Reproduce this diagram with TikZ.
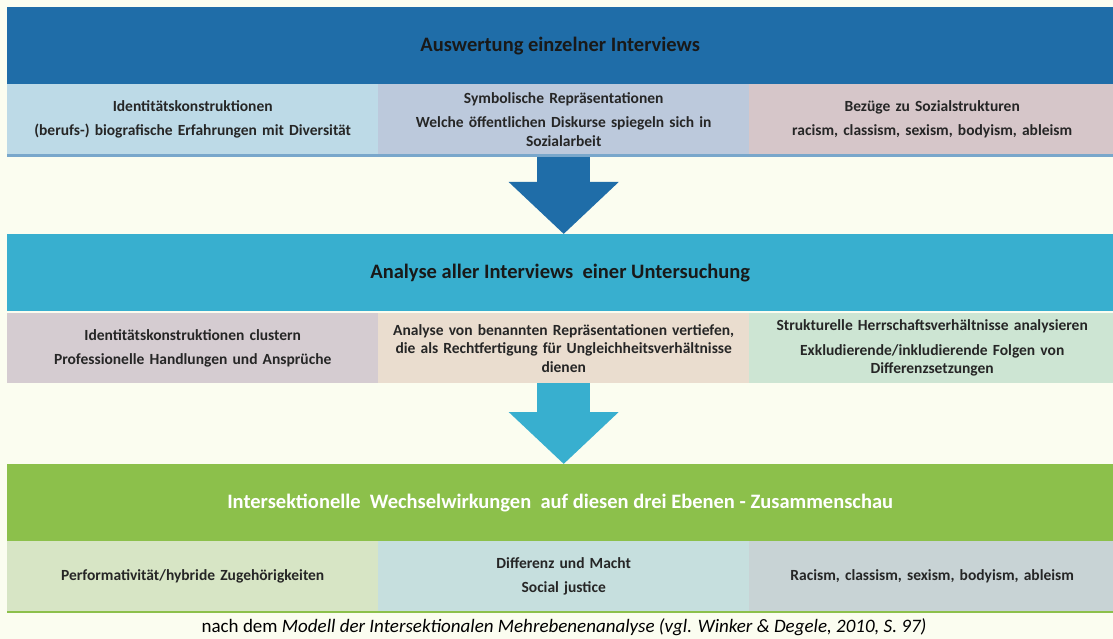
\documentclass[tikz,border=0pt]{standalone}
\usepackage{fontspec}
\setmainfont{Carlito}
\usetikzlibrary{arrows.meta}

\definecolor{paper}{HTML}{FBFDF0}
\definecolor{hdrA}{HTML}{1F6DA8}
\definecolor{hdrB}{HTML}{38AFCF}
\definecolor{hdrC}{HTML}{8CC04B}
\definecolor{cellAa}{HTML}{BDDAE7}
\definecolor{cellAb}{HTML}{BCC9DC}
\definecolor{cellAc}{HTML}{D6C6C9}
\definecolor{cellBa}{HTML}{D5CCD1}
\definecolor{cellBb}{HTML}{EADDCF}
\definecolor{cellBc}{HTML}{CDE5D3}
\definecolor{cellCa}{HTML}{D7E5C5}
\definecolor{cellCb}{HTML}{C6DFDE}
\definecolor{cellCc}{HTML}{C8D3D5}

\tikzset{
  header/.style={anchor=north west, inner sep=0pt, minimum width=1106pt, minimum height=77pt,
    font=\fontsize{20.5}{24}\selectfont\bfseries},
  cell/.style={anchor=north west, inner sep=0pt, minimum width=371pt, minimum height=70pt,
    align=center, text width=366pt, font=\fontsize{15.5}{18.5}\selectfont\bfseries, text=black!85},
  bigarrow/.style={line width=53pt, -{Triangle[width=107pt,length=52pt]}}
}

\begin{document}
\begin{tikzpicture}[x=1pt, y=-1pt]

    % Background
    \fill[paper] (0,0) rectangle (1113,639);
    \useasboundingbox (0,0) rectangle (1113,639);

    % First level: single interviews
    \node[header, fill=hdrA, text=black!90] (hA) at (7,7) {Auswertung einzelner Interviews};
    \node[cell, fill=cellAa] (a1) at (7,84) {Identitätskonstruktionen\\[6pt](berufs-) biografische Erfahrungen mit Diversität};
    \node[cell, fill=cellAb] (a2) at (378,84) {Symbolische Repräsentationen\\[6pt]Welche öffentlichen Diskurse spiegeln sich in\\Sozialarbeit};
    \node[cell, fill=cellAc, minimum width=364pt] (a3) at (749,84) {Bezüge zu Sozialstrukturen\\[6pt]racism, classism, sexism,\ bodyism, ableism};
    \fill[hdrA!60] (a1.south west) rectangle ([yshift=-3pt]a3.south east);

    % Second level: all interviews
    \node[header, fill=hdrB, text=black!90] (hB) at (7,234) {Analyse aller Interviews\ \ einer Untersuchung};
    \node[cell, fill=cellBa] (b1) at (7,313) {Identitätskonstruktionen clustern\\[6pt]Professionelle Handlungen und Ansprüche};
    \node[cell, fill=cellBb] (b2) at (378,313) {Analyse von benannten Repräsentationen vertiefen,\\die als Rechtfertigung für Ungleichheitsverhältnisse\\dienen};
    \node[cell, fill=cellBc, minimum width=364pt] (b3) at (749,313) {Strukturelle Herrschaftsverhältnisse analysieren\\[6pt]Exkludierende/inkludierende Folgen von\\Differenzsetzungen};

    % Third level: interplay
    \node[header, fill=hdrC, text=white] (hC) at (7,464) {Intersektionelle\ \ Wechselwirkungen\ \ auf diesen drei Ebenen - Zusammenschau};
    \node[cell, fill=cellCa] (c1) at (7,541) {Performativität/hybride Zugehörigkeiten};
    \node[cell, fill=cellCb] (c2) at (378,541) {Differenz und Macht\\[6pt]Social justice};
    \node[cell, fill=cellCc, minimum width=364pt] (c3) at (749,541) {Racism, classism, sexism,\ bodyism, ableism};
    \fill[hdrC] (c1.south west) rectangle ([yshift=-2pt]c3.south east);

    % Block arrows between levels
    \draw[bigarrow, hdrA] ([yshift=-3pt]a2.south) -- (a2.south |- hB.north);
    \draw[bigarrow, hdrB] (b2.south) -- (b2.south |- hC.north);

    % Source
    \node[font=\fontsize{19}{22}\selectfont] (src) at (564,627)
      {nach dem \textit{Modell der Intersektionalen Mehrebenenanalyse (vgl. Winker \& Degele, 2010, S. 97)}};

\end{tikzpicture}
\end{document}
